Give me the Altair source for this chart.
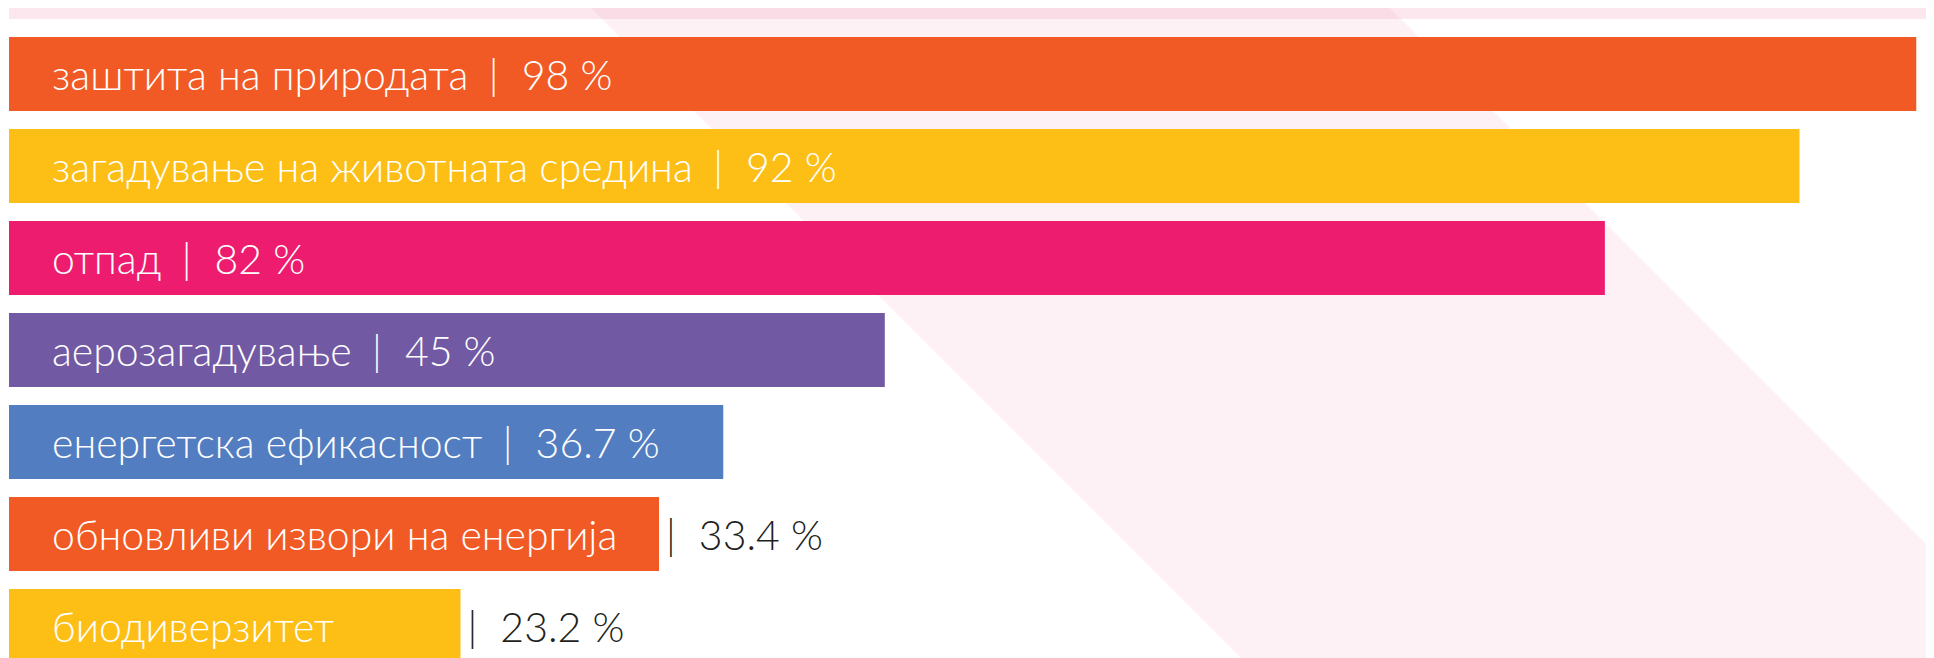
import altair as alt
import pandas as pd

# ---- data ----
categories = [
    "заштита на природата",
    "загадување на животната средина",
    "отпад",
    "аерозагадување",
    "енергетска ефикасност",
    "обновливи извори на енергија",
    "биодиверзитет",
]
values = [98, 92, 82, 45, 36.7, 33.4, 23.2]

# ---- styling ----
palette = ["#f15a24", "#fdbe16", "#ed1c6f", "#7259a3", "#527dc0", "#f15a24", "#fdbe16"]
SEP = "\u2002|\u2002\u200a"
FONT = "Lato"
FSIZE = 41
W, H = 1917, 650

df = pd.DataFrame({"category": categories, "value": values})
df["vlabel"] = [f"{v:g} %" for v in values]
df["full"] = df["category"] + SEP + df["vlabel"]
df["tail"] = "|\u2002\u200a" + df["vlabel"]

yenc = alt.Y(
    "category:N",
    sort=None,
    axis=None,
    scale=alt.Scale(range=[20, 664], paddingInner=0.1957, paddingOuter=0.0978),
)
xscale = alt.Scale(domain=[0, 98.5], nice=False, zero=True)

base = alt.Chart(df)
deco = alt.Chart(pd.DataFrame({"k": [0]}))

# decorative background: diagonal light-pink band and top ribbon
diag = deco.mark_rule(color="#fdf1f5", strokeWidth=565, strokeCap="butt", clip=True).encode(
    x=alt.value(481.5), y=alt.value(-500), x2=alt.value(2181.5), y2=alt.value(1200)
)
ribbon = deco.mark_rect(color="#f5a0bf", opacity=0.25, clip=True).encode(
    x=alt.value(0), x2=alt.value(W), y=alt.value(0), y2=alt.value(11)
)

bars = base.mark_bar(clip=True).encode(
    y=yenc,
    x=alt.X("value:Q", scale=xscale, axis=None),
    color=alt.Color("category:N", scale=alt.Scale(domain=categories, range=palette), legend=None),
)

white_text = (
    base.transform_calculate(lbl="datum.value >= 35 ? datum.full : datum.category")
    .mark_text(
        align="left", baseline="alphabetic", dy=16, font=FONT, fontSize=FSIZE,
        fontWeight=300, color="white", clip=True,
    )
    .encode(y=yenc, x=alt.value(43), text="lbl:N")
)

dark_text = (
    base.transform_filter("datum.value < 35")
    .mark_text(
        align="left", baseline="alphabetic", dx=7, dy=16, font=FONT, fontSize=FSIZE,
        fontWeight=300, color="#231f20", clip=True,
    )
    .encode(y=yenc, x=alt.X("value:Q", scale=xscale, axis=None), text="tail:N")
)

chart = (
    alt.layer(diag, ribbon, bars, white_text, dark_text)
    .properties(
        width=W,
        height=H,
        padding={"left": 1, "top": 0, "right": 0, "bottom": 0},
        autosize=alt.AutoSizeParams(type="none"),
    )
    .configure_view(strokeWidth=0)
)

chart.save("out.html", embed_options={"renderer": "svg", "actions": False})
